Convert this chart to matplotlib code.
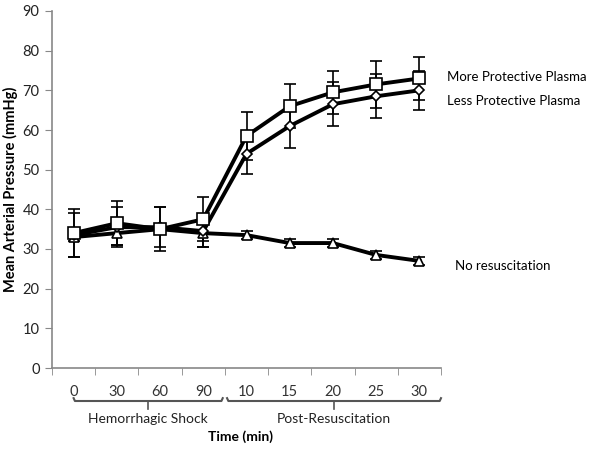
import matplotlib
matplotlib.use("Agg")
import matplotlib.pyplot as plt
import numpy as np

plt.rcParams['font.family'] = ['Lato', 'DejaVu Sans']

categories = ["0", "30", "60", "90", "10", "15", "20", "25", "30"]
more_protective = [34, 36.5, 35, 37.5, 58.5, 66, 69.5, 71.5, 73]
more_err = [6, 5.5, 5.5, 5.5, 6, 5.5, 5.5, 6, 5.5]
less_protective = [33.5, 35.5, 35.5, 34.5, 54, 61, 66.5, 68.5, 70]
less_err = [5.5, 5, 5, 4, 5, 5.5, 5.5, 5.5, 5]
no_resus = [33, 34, 35, 34, 33.5, 31.5, 31.5, 28.5, 27]
no_err = [1, 3, 1, 3.5, 1, 1, 1, 1, 1]
groups = ["Hemorrhagic Shock", "Post-Resuscitation"]
group_spans = [(0, 3.45), (3.55, 8.5)]
series_labels = ["More Protective Plasma", "Less Protective Plasma", "No resuscitation"]

fig = plt.figure(figsize=(6, 4.49), dpi=100)
ax = fig.add_axes([52/600, 1-368/449, (441-52)/600, (368-11)/449])

x = np.arange(len(categories))
for vals, err, mk, ms in [(no_resus, no_err, '^', 7), (less_protective, less_err, 'D', 5.5),
                          (more_protective, more_err, 's', 8.5)]:
    ax.errorbar(x, vals, yerr=err, color='black', lw=2.8, marker=mk, ms=ms,
                mfc='white', mec='black', mew=1.2, ecolor='black', elinewidth=1.2,
                capsize=4, capthick=1.2, zorder=3)

ax.set_xlim(-0.5, len(categories) - 0.5)
ax.set_ylim(0, 90)
ax.set_yticks(np.arange(0, 91, 10))
ax.tick_params(axis='y', labelsize=10.5, length=5, color='#888888', labelcolor='#222222', pad=4)
ax.set_xticks(x)
ax.set_xticklabels(categories)
ax.tick_params(axis='x', which='major', length=0, labelsize=10.5, pad=12, labelcolor='#333333')
ax.set_xticks(np.arange(-0.5, len(categories), 1), minor=True)
ax.tick_params(axis='x', which='minor', length=5, color='#888888', direction='out')
for s in ['top', 'right']:
    ax.spines[s].set_visible(False)
for s in ['left', 'bottom']:
    ax.spines[s].set_color('#888888')
    ax.spines[s].set_linewidth(1.2)

ax.set_ylabel("Mean Arterial Pressure (mmHg)", fontsize=10.5, fontweight='bold', labelpad=3)

# group brackets below axis
trans = ax.get_xaxis_transform()
by = -33/357
for (a, b), name in zip(group_spans, groups):
    ax.plot([a, a + 0.03, b - 0.03, b], [by + 0.008, by, by, by + 0.008], transform=trans,
            color='#555555', lw=1.5, clip_on=False)
    mid = (a + b) / 2
    ax.plot([mid, mid], [by, by - 0.022], transform=trans, color='#555555', lw=1.2, clip_on=False)
    ax.text(mid, -51/357, name, transform=trans, ha='center', va='center', fontsize=10,
            color='#222222')
ax.text((len(categories) - 1) / 2 - 0.15, -69/357, "Time (min)", transform=trans, ha='center',
        va='center', fontsize=10, fontweight='bold')

# series labels
ax.annotate(series_labels[0], xy=(447, 449-77), xycoords='figure pixels', va='center',
            ha='left', fontsize=9.5, annotation_clip=False)
ax.annotate(series_labels[1], xy=(447, 449-101), xycoords='figure pixels', va='center',
            ha='left', fontsize=9.5, annotation_clip=False)
ax.annotate(series_labels[2], xy=(455, 449-266), xycoords='figure pixels', va='center',
            ha='left', fontsize=9.5, annotation_clip=False)

fig.savefig("out.png", dpi=100)
